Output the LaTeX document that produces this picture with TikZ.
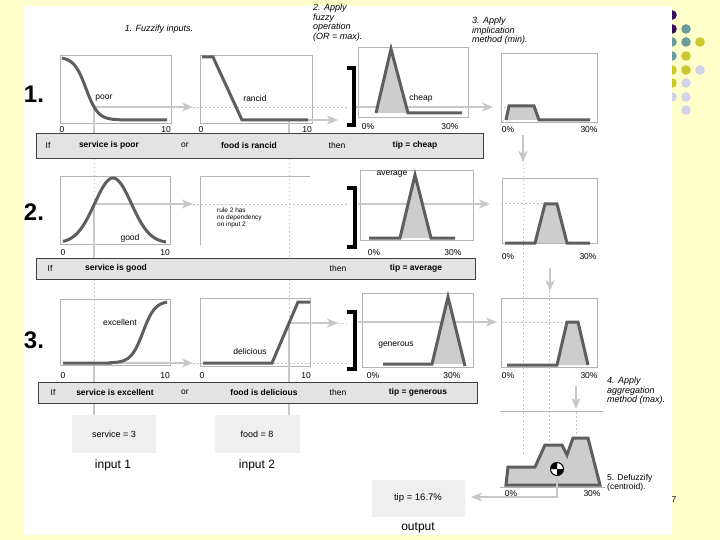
\documentclass[tikz,border=0pt]{standalone}
\usepackage{fontspec}
\setmainfont{Liberation Sans}
\usetikzlibrary{arrows.meta}
\definecolor{bgy}{HTML}{FFFFCC}
\definecolor{curvec}{HTML}{5E5E5E}
\definecolor{shadegray}{HTML}{CDCDCD}
\definecolor{framec}{HTML}{B4B4B4}
\definecolor{arr}{HTML}{C8C8C8}
\definecolor{dotc}{HTML}{C4C4C4}
\definecolor{barfill}{HTML}{E3E3E3}
\definecolor{boxfill}{HTML}{EFEFEF}
\definecolor{dpurple}{HTML}{3A0B5C}
\definecolor{dteal}{HTML}{6A9C9C}
\definecolor{dyellow}{HTML}{C9C92E}
\definecolor{dlav}{HTML}{D3D3E8}
\tikzset{
  curvestyle/.style={draw=curvec, line width=3pt, line join=miter},
  pframe/.style={draw=framec, line width=0.6pt},
  garrow/.style={draw=arr, line width=1.6pt, -{Stealth[length=11pt,width=9pt,inset=3pt]}},
  gline/.style={draw=arr, line width=1.2pt},
  dotl/.style={draw=dotc, line width=0.9pt, dash pattern=on 1.5pt off 2.5pt},
  bracketst/.style={draw=black, line width=3.2pt, line join=miter},
  rulebar/.style={draw=black!75, fill=barfill, line width=0.6pt},
  lbl/.style={font=\fontsize{8.5}{9}\selectfont, inner sep=0pt},
  rtxt/.style={font=\bfseries\fontsize{8.5}{9}\selectfont, inner sep=0pt},
  rreg/.style={font=\fontsize{8.5}{9}\selectfont, inner sep=0pt},
  ann/.style={font=\itshape\fontsize{9}{9.5}\selectfont, align=left, inner sep=0pt, anchor=north west},
  annup/.style={font=\fontsize{8.5}{9.5}\selectfont, align=left, inner sep=0pt, anchor=north west},
  bignum/.style={font=\bfseries\fontsize{24}{24}\selectfont, inner sep=0pt},
  valbox/.style={fill=boxfill, inner sep=0pt, font=\fontsize{9}{10}\selectfont},
  caption/.style={font=\fontsize{12}{13}\selectfont, inner sep=0pt}
}
\begin{document}
\begin{tikzpicture}[x=1pt,y=-1pt]
\useasboundingbox (0,0) rectangle (720,540);
\fill[bgy] (0,0) rectangle (720,540);
% decorative dots
\foreach \px/\py/\c in {672/15/dpurple, 672/29/dpurple, 686/29/dteal,
  672/42/dteal, 686/42/dteal, 700/42/dyellow, 672/56/dteal, 686/56/dyellow,
  672/70/dyellow, 686/70/dyellow, 700/70/dlav, 672/83/dyellow, 686/83/dlav,
  672/97/dlav, 686/97/dlav, 686/110/dlav}
  {\fill[\c] (\px,\py) circle[radius=4.8pt];}
\fill[white] (24,6) rectangle (672,535);

% ---------- panel frames ----------
\draw[pframe] (60,55) rectangle (171,123);
\draw[pframe] (200,55) rectangle (312,123);
\draw[pframe] (358,47) rectangle (468,117);
\draw[pframe] (501,53) rectangle (597,122);
\draw[pframe] (60,176) rectangle (170,244);
\draw[pframe] (200,245) -- (200,176) -- (310,176);
\draw[pframe] (360,170) rectangle (473,240);
\draw[pframe] (502,178) rectangle (597,243);
\draw[pframe] (60,299) rectangle (170,365);
\draw[pframe] (200,298) rectangle (310,366);
\draw[pframe] (362,293) rectangle (473,367);
\draw[pframe] (501,298) rectangle (597,367);
\draw[pframe] (500,411) -- (603,411);
\draw[pframe] (500,487) -- (605,487);

% ---------- coordinates ----------
\coordinate (s1) at (94,107);   \coordinate (s1e) at (193,107);
\coordinate (f1) at (289,120);  \coordinate (f1e) at (338,120);
\coordinate (o1) at (356,107);  \coordinate (o1e) at (493,107);
\coordinate (s2) at (94,204);   \coordinate (s2e) at (193,204);
\coordinate (o2) at (358,204);  \coordinate (o2e) at (490,204);
\coordinate (s3) at (94,363);   \coordinate (s3e) at (193,363);
\coordinate (f3) at (289,323);  \coordinate (f3e) at (338,323);
\coordinate (o3) at (358,322);  \coordinate (o3e) at (497,322);
\coordinate (d1) at (523,135);  \coordinate (d1e) at (523,162);
\coordinate (d2) at (550,268);  \coordinate (d2e) at (550,291);
\coordinate (d3) at (576,386);  \coordinate (d3e) at (576,409);
\coordinate (cen) at (557,469);
\coordinate (cdn) at (557,497); \coordinate (cout) at (471,497);

% ---------- dotted guide lines ----------
\draw[dotl] (94,123) -- (94,415);
\draw[dotl] (289,123) -- (289,415);
\draw[dotl] (523,160) -- (523,456);
\draw[dotl] (549,291) -- (549,443);
\draw[dotl] (576,412) -- (576,436);
\draw[dotl] (s1e) -- (347,107);
\draw[dotl] (s2e) -- (347,204);
\draw[dotl] (s3e) -- (347,363);
\draw[dotl] (f3e) -- (347,323);
\draw[dotl] (500,107) -- (509,107);
\draw[dotl] (501,203) -- (544,203);
\draw[dotl] (501,322) -- (567,322);

% ---------- solid guide lines ----------
\draw[gline] (s1) -- (94,133);
\draw[gline] (s2) -- (94,258);
\draw[gline] (s3) -- (94,382);
\draw[gline] (94,404) -- (94,415);
\draw[gline] (f1) -- (289,133);
\draw[gline] (f3) -- (289,382);
\draw[gline] (289,404) -- (289,415);

% ---------- arrows ----------
\draw[garrow] (s1) -- (s1e);
\draw[garrow] (f1) -- (f1e);
\draw[garrow] (o1) -- (o1e);
\draw[garrow] (s2) -- (s2e);
\draw[garrow] (o2) -- (o2e);
\draw[garrow] (s3) -- (s3e);
\draw[garrow] (f3) -- (f3e);
\draw[garrow] (o3) -- (o3e);
\draw[garrow] (d1) -- (d1e);
\draw[garrow] (d2) -- (d2e);
\draw[garrow] (d3) -- (d3e);

% ---------- membership curves ----------
\draw[curvestyle] plot[domain=62:167, samples=70] (\x, {57+63/(1+exp(-(\x-86)/6))});
\draw[curvestyle] (202,57) -- (213,57) -- (242,120) -- (308,120);
\fill[shadegray] (376,113) -- (391,49) -- (408,113) -- cycle;
\draw[curvestyle] (376,113) -- (391,49) -- (408,113) -- (462,113);
\fill[shadegray] (506,120) -- (509,106) -- (534,106) -- (539,120) -- cycle;
\draw[curvestyle] (506,120) -- (509,106) -- (534,106) -- (539,120) -- (590,120);

\draw[curvestyle] plot[domain=63:166, samples=70] (\x, {243-65*exp(-((\x-113)/26)*((\x-113)/26))});
\fill[shadegray] (400,238) -- (415,175) -- (431,238) -- cycle;
\draw[curvestyle] (369,238) -- (400,238) -- (415,175) -- (431,238) -- (455,238);
\fill[shadegray] (535,243) -- (545,204) -- (557,204) -- (567,243) -- cycle;
\draw[curvestyle] (505,243) -- (535,243) -- (545,204) -- (557,204) -- (567,243) -- (590,243);

\draw[curvestyle] (63,363) -- (110,363) -- plot[domain=110:167, samples=50] (\x, {363-62/(1+exp(-(\x-143)/6))});
\draw[curvestyle] (203,363) -- (272,363) -- (298,302) -- (310,302);
\fill[shadegray] (432,364) -- (448,297) -- (464,364) -- cycle;
\draw[curvestyle] (383,364) -- (432,364) -- (448,297) -- (465,366);
\fill[shadegray] (557,365) -- (567,322) -- (578,322) -- (588,365) -- cycle;
\draw[curvestyle] (507,365) -- (557,365) -- (567,322) -- (578,322) -- (588,365);

% aggregated output
\filldraw[fill=shadegray, curvestyle] (506,485) -- (508,467) -- (535,467) -- (545,445) -- (562,445) -- (567,455) -- (573,438) -- (588,438) -- (600,485) -- cycle;

% brackets
\draw[bracketst] (347,68) -- (354,68) -- (354,125) -- (347,125);
\draw[bracketst] (347,188) -- (355,188) -- (355,247) -- (347,247);
\draw[bracketst] (347,312) -- (355,312) -- (355,369) -- (347,369);

% centroid symbol and output connector
\draw[garrow] (cen) -- (cdn) -- (cout);
\fill[white] (cen) circle[radius=6.5pt];
\fill[black] (cen) -- ++(-6.5pt,0pt) arc[start angle=180, end angle=90, radius=6.5pt] -- cycle;
\fill[black] (cen) -- ++(6.5pt,0pt) arc[start angle=0, end angle=-90, radius=6.5pt] -- cycle;
\draw[black, line width=1pt] (cen) circle[radius=6.5pt];

% ---------- rule bars ----------
\draw[rulebar] (36,133) rectangle (483,158);
\draw[rulebar] (36,258) rectangle (475,279);
\draw[rulebar] (38,382) rectangle (477,403);
\node[rreg] (b1if) at (48,145.5) {If};
\node[rtxt] (b1s) at (109,145.5) {service is poor};
\node[rreg] (b1or) at (185,145.5) {or};
\node[rtxt] (b1f) at (249,145.5) {food is rancid};
\node[rreg] (b1th) at (337,145.5) {then};
\node[rtxt] (b1t) at (415,145.5) {tip = cheap};
\node[rreg] (b2if) at (50,268.5) {If};
\node[rtxt] (b2s) at (116,268.5) {service is good};
\node[rreg] (b2th) at (338,268.5) {then};
\node[rtxt] (b2t) at (416,268.5) {tip = average};
\node[rreg] (b3if) at (53,392.5) {If};
\node[rtxt] (b3s) at (115,392.5) {service is excellent};
\node[rreg] (b3or) at (185,392.5) {or};
\node[rtxt] (b3f) at (264,392.5) {food is delicious};
\node[rreg] (b3th) at (338,392.5) {then};
\node[rtxt] (b3t) at (418,392.5) {tip = generous};

% ---------- labels ----------
\node[bignum] (n1) at (34,94) {1.};
\node[bignum] (n2) at (34,212) {2.};
\node[bignum] (n3) at (34,340) {3.};
\node[ann, anchor=center] (t1) at (159,29) {1. Fuzzify inputs.};
\node[ann] (t2) at (313,4) {2. Apply\\fuzzy\\operation\\(OR = max).};
\node[ann] (t3) at (472,17) {3. Apply\\implication\\method (min).};
\node[ann] (t4) at (607,377) {4. Apply\\aggregation\\method (max).};
\node[annup] (t5) at (607,474) {5. Defuzzify\\(centroid).};

\node[lbl] (lpoor) at (104,98) {poor};
\node[lbl] (lrancid) at (255,98) {rancid};
\node[lbl] (lcheap) at (421,98) {cheap};
\node[lbl] (lgood) at (130,238) {good};
\node[lbl] (laverage) at (392,174) {average};
\node[lbl] (lexc) at (120,322) {excellent};
\node[lbl] (ldel) at (250,351) {delicious};
\node[lbl] (lgen) at (396,345) {generous};
\node[font=\fontsize{6.5}{7}\selectfont, align=left, inner sep=0pt, anchor=north west] (lrule2) at (217,208) {rule 2 has\\no dependency\\on input 2};

\node[lbl] (a1) at (62,130) {0};
\node[lbl] (a2) at (166,130) {10};
\node[lbl] (a3) at (201,130) {0};
\node[lbl] (a4) at (307,130) {10};
\node[lbl] (a5) at (368,127) {0\%};
\node[lbl] (a6) at (450,127) {30\%};
\node[lbl] (a7) at (508,130) {0\%};
\node[lbl] (a8) at (589,130) {30\%};
\node[lbl] (b1) at (63,253) {0};
\node[lbl] (b2) at (165,253) {10};
\node[lbl] (b5) at (374,253) {0\%};
\node[lbl] (b6) at (453,253) {30\%};
\node[lbl] (b7) at (508,257) {0\%};
\node[lbl] (b8) at (588,257) {30\%};
\node[lbl] (c1) at (63,376) {0};
\node[lbl] (c2) at (165,376) {10};
\node[lbl] (c3) at (202,376) {0};
\node[lbl] (c4) at (306,376) {10};
\node[lbl] (c5) at (373,376) {0\%};
\node[lbl] (c6) at (452,376) {30\%};
\node[lbl] (c7) at (508,376) {0\%};
\node[lbl] (c8) at (589,376) {30\%};
\node[lbl] (g1) at (511,494) {0\%};
\node[lbl] (g2) at (592,494) {30\%};

% ---------- inputs / output ----------
\node[valbox, minimum width=84pt, minimum height=38pt] (svc) at (114,434) {service = 3};
\node[valbox, minimum width=85pt, minimum height=38pt] (food) at (257,434) {food = 8};
\node[caption] (in1) at (113,465) {input 1};
\node[caption] (in2) at (257,465) {input 2};
\node[valbox, minimum width=93pt, minimum height=37pt, font=\fontsize{9.5}{10}\selectfont] (tip) at (418,498) {tip = 16.7\%};
\node[caption] (outl) at (418,528) {output};
\node[lbl] (pg) at (674,500) {7};
\end{tikzpicture}
\end{document}
